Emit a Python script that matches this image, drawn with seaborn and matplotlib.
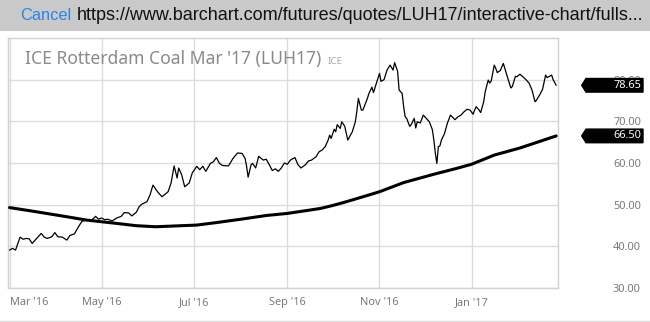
import matplotlib
matplotlib.use("Agg")
import matplotlib.pyplot as plt
from matplotlib.patches import Polygon, Rectangle
from matplotlib.lines import Line2D
import seaborn as sns
import pandas as pd

# ---------------- data ----------------
price_dates = [
    "2016-03-01", "2016-03-03", "2016-03-05", "2016-03-08", "2016-03-10", "2016-03-12",
    "2016-03-14", "2016-03-16", "2016-03-18", "2016-03-22", "2016-03-24", "2016-03-26",
    "2016-03-29", "2016-03-31", "2016-04-02", "2016-04-05", "2016-04-08", "2016-04-10",
    "2016-04-13", "2016-04-16", "2016-04-18", "2016-04-20", "2016-04-22", "2016-04-24",
    "2016-04-27", "2016-04-29", "2016-05-01", "2016-05-03", "2016-05-05", "2016-05-08",
    "2016-05-11", "2016-05-14", "2016-05-16", "2016-05-19", "2016-05-21", "2016-05-24",
    "2016-05-26", "2016-05-28", "2016-05-31", "2016-06-02", "2016-06-04", "2016-06-07",
    "2016-06-10", "2016-06-14", "2016-06-16", "2016-06-18", "2016-06-20", "2016-06-21",
    "2016-06-23", "2016-06-25", "2016-06-28", "2016-06-30", "2016-07-03", "2016-07-05",
    "2016-07-07", "2016-07-09", "2016-07-12", "2016-07-14", "2016-07-16", "2016-07-18",
    "2016-07-20", "2016-07-24", "2016-07-27", "2016-07-30", "2016-08-02", "2016-08-04",
    "2016-08-05", "2016-08-06", "2016-08-08", "2016-08-09", "2016-08-11", "2016-08-13",
    "2016-08-16", "2016-08-18", "2016-08-20", "2016-08-22", "2016-08-24", "2016-08-26",
    "2016-08-28", "2016-08-30", "2016-09-01", "2016-09-03", "2016-09-06", "2016-09-08",
    "2016-09-10", "2016-09-13", "2016-09-15", "2016-09-17", "2016-09-20", "2016-09-22",
    "2016-09-24", "2016-09-26", "2016-09-28", "2016-09-29", "2016-09-30", "2016-10-02",
    "2016-10-03", "2016-10-04", "2016-10-06", "2016-10-07", "2016-10-09", "2016-10-11",
    "2016-10-14", "2016-10-16", "2016-10-17", "2016-10-18", "2016-10-20", "2016-10-21",
    "2016-10-24", "2016-10-25", "2016-10-27", "2016-10-28", "2016-10-30", "2016-11-01",
    "2016-11-02", "2016-11-04", "2016-11-06", "2016-11-08", "2016-11-10", "2016-11-11",
    "2016-11-13", "2016-11-14", "2016-11-16", "2016-11-17", "2016-11-18", "2016-11-19",
    "2016-11-21", "2016-11-22", "2016-11-24", "2016-11-25", "2016-11-26", "2016-11-28",
    "2016-11-30", "2016-12-02", "2016-12-04", "2016-12-06", "2016-12-07", "2016-12-08",
    "2016-12-09", "2016-12-10", "2016-12-11", "2016-12-12", "2016-12-14", "2016-12-16",
    "2016-12-18", "2016-12-21", "2016-12-23", "2016-12-25", "2016-12-27", "2016-12-29",
    "2016-12-31", "2017-01-02", "2017-01-03", "2017-01-04", "2017-01-06", "2017-01-07",
    "2017-01-09", "2017-01-10", "2017-01-12", "2017-01-13", "2017-01-14", "2017-01-16",
    "2017-01-17", "2017-01-18", "2017-01-20", "2017-01-22", "2017-01-23", "2017-01-25",
    "2017-01-27", "2017-01-28", "2017-01-30", "2017-01-31", "2017-02-02", "2017-02-04",
    "2017-02-06", "2017-02-08", "2017-02-10", "2017-02-12", "2017-02-13", "2017-02-15",
    "2017-02-17", "2017-02-19", "2017-02-20", "2017-02-23", "2017-02-24", "2017-02-26",
]
price_values = [
    39.1, 39.5, 39.1, 42.2, 41.7, 41.9,
    41.8, 40.7, 41.5, 43.1, 42.2, 41.9,
    42.3, 43.3, 42.3, 42.2, 41.5, 42.6,
    43.0, 44.9, 46.0, 46.2, 46.4, 46.1,
    47.2, 46.5, 46.8, 46.4, 46.5, 46.1,
    46.8, 47.2, 48.1, 48.0, 47.3, 48.2,
    49.6, 50.2, 50.7, 52.3, 54.7, 53.1,
    51.9, 53.1, 55.2, 59.3, 56.4, 58.8,
    57.2, 54.3, 55.2, 57.6, 59.2, 58.4,
    59.2, 58.0, 59.9, 60.3, 61.3, 59.9,
    59.4, 59.3, 61.1, 62.4, 62.3, 61.1,
    59.2, 56.6, 59.6, 59.9, 58.8, 61.6,
    60.7, 60.9, 59.6, 58.2, 58.6, 58.0,
    58.8, 60.0, 59.7, 60.7, 61.3, 59.6,
    58.8, 59.6, 60.5, 60.7, 61.5, 62.7,
    63.1, 63.9, 65.5, 66.7, 65.9, 68.1,
    67.5, 69.2, 68.3, 69.9, 68.8, 65.5,
    67.5, 69.9, 72.4, 75.5, 72.7, 72.7,
    75.5, 76.7, 78.2, 76.9, 79.2, 81.5,
    79.6, 80.0, 82.3, 83.5, 82.3, 84.1,
    82.0, 77.5, 76.7, 73.5, 71.1, 70.7,
    68.8, 69.2, 70.7, 68.4, 69.9, 69.6,
    71.5, 70.7, 69.9, 68.0, 65.5, 62.3,
    59.9, 63.9, 64.1, 65.5, 67.0, 69.6,
    71.5, 70.4, 71.1, 71.5, 72.3, 72.9,
    72.7, 71.7, 72.7, 73.5, 72.7, 72.1,
    74.7, 77.1, 79.9, 79.2, 79.7, 83.5,
    82.7, 81.7, 82.2, 83.9, 82.7, 80.3,
    78.0, 78.4, 80.8, 80.7, 81.3, 80.7,
    80.0, 79.2, 77.5, 74.7, 75.1, 76.3,
    77.7, 81.1, 80.5, 81.1, 80.0, 78.65,
]
ma_dates = [
    "2016-03-01", "2016-03-17", "2016-04-08", "2016-04-21", "2016-05-01", "2016-05-11",
    "2016-05-24", "2016-06-06", "2016-06-19", "2016-07-03", "2016-07-16", "2016-08-03",
    "2016-08-18", "2016-09-01", "2016-09-14", "2016-09-23", "2016-10-01", "2016-10-10",
    "2016-10-22", "2016-11-01", "2016-11-17", "2016-12-07", "2016-12-22", "2017-01-01",
    "2017-01-16", "2017-02-02", "2017-02-26",
]
ma_values = [
    49.3, 48.4, 47.1, 46.3, 45.9, 45.5,
    44.95, 44.7, 44.9, 45.1, 45.7, 46.6,
    47.4, 47.9, 48.6, 49.1, 49.8, 50.7,
    52.0, 53.1, 55.3, 57.3, 58.7, 59.7,
    61.9, 63.6, 66.5,
]
x_tick_dates = ["2016-03-01", "2016-05-01", "2016-07-01", "2016-09-01", "2016-11-01", "2017-01-01"]
x_tick_labels = ["Mar '16", "May '16", "Jul '16", "Sep '16", "Nov '16", "Jan '17"]
y_ticks = [30, 40, 50, 60, 70, 80]
last_price = 78.65
last_ma = 66.50
title_text = "ICE Rotterdam Coal Mar '17 (LUH17)"
exchange_text = "ICE"
cancel_text = "Cancel"
url_text = "https://www.barchart.com/futures/quotes/LUH17/interactive-chart/fulls..."

# ---------------- style ----------------
sns.set_style("white")
plt.rcParams["font.family"] = ["Noto Sans", "DejaVu Sans"]

W, H = 650, 322
fig = plt.figure(figsize=(W / 100, H / 100), dpi=100)
fig.patch.set_facecolor("white")

ax_left, ax_right, ax_top, ax_bottom = 8, 558, 38, 288
ax = fig.add_axes([ax_left / W, 1 - ax_bottom / H, (ax_right - ax_left) / W, (ax_bottom - ax_top) / H])

price_df = pd.DataFrame({"date": pd.to_datetime(price_dates), "value": price_values})
ma_df = pd.DataFrame({"date": pd.to_datetime(ma_dates), "value": ma_values})

sns.lineplot(data=price_df, x="date", y="value", ax=ax, color="black", linewidth=0.9, zorder=3)
sns.lineplot(data=ma_df, x="date", y="value", ax=ax, color="black", linewidth=2.2, zorder=4)

ax.set_xlim(pd.Timestamp("2016-02-29"), pd.Timestamp("2017-02-27 05:00"))
ax.set_ylim(30, 90)
ax.set_xlabel("")
ax.set_ylabel("")

ax.set_xticks(pd.to_datetime(x_tick_dates))
ax.set_xticklabels(x_tick_labels)
ax.set_yticks(y_ticks)
ax.set_yticklabels([f"{v:.2f}" for v in y_ticks])
ax.yaxis.tick_right()

tick_color = "#7a7a7a"
ax.tick_params(axis="y", length=0, pad=39.6, labelsize=7.9, labelcolor=tick_color)
ax.tick_params(axis="x", length=0, pad=6.3, labelsize=7.9, labelcolor=tick_color)
ax.get_xticklabels()[0].set_horizontalalignment("left")

ax.grid(True, color="#dcdcdc", linewidth=1.0)
ax.set_axisbelow(True)
for s in ax.spines.values():
    s.set_color("#d2d2d2")
    s.set_linewidth(1.0)

# price tags at right
def tag(value):
    tr = ax.get_yaxis_transform()
    w = ax_right - ax_left
    tip = (581.7 - ax_left) / w
    notch = (586 - ax_left) / w
    right = (643 - ax_left) / w
    hh = 6.8 / ((ax_bottom - ax_top) / 60.0)
    poly = Polygon([(tip, value), (notch, value + hh), (right, value + hh),
                    (right, value - hh), (notch, value - hh)],
                   closed=True, transform=tr, facecolor="black", edgecolor="black",
                   clip_on=False, zorder=10)
    ax.add_patch(poly)
    ax.text((613 - ax_left) / w, value, f"{value:.2f}", transform=tr, color="white",
            fontsize=7.9, ha="left", va="center", clip_on=False, zorder=11)

tag(last_price)
tag(last_ma)

# title
fig.text(25 / W, 1 - 64 / H, title_text, fontsize=12.6, color="#8a8a8a", ha="left", va="baseline")
fig.text(328 / W, 1 - 64 / H, exchange_text, fontsize=7, color="#ababab", ha="left", va="baseline")

# top browser bar
fig.patches.append(Rectangle((0, 1 - 31 / H), 1, 31 / H, transform=fig.transFigure,
                             facecolor="#c9c9c9", edgecolor="none", zorder=0))
fig.text(20 / W, 1 - 20.5 / H, cancel_text, fontsize=11.8, color="#2b84e6",
         family=["Liberation Sans", "DejaVu Sans"], ha="left", va="baseline")
fig.text(77 / W, 1 - 20.5 / H, url_text, fontsize=12.95, color="#111111",
         family=["Liberation Sans", "DejaVu Sans"], ha="left", va="baseline")

# bottom separator line
fig.lines.append(Line2D([0, 1], [0.6 / H, 0.6 / H], transform=fig.transFigure,
                        color="#dddddd", linewidth=1.0))

fig.savefig("out.png", dpi=100)
